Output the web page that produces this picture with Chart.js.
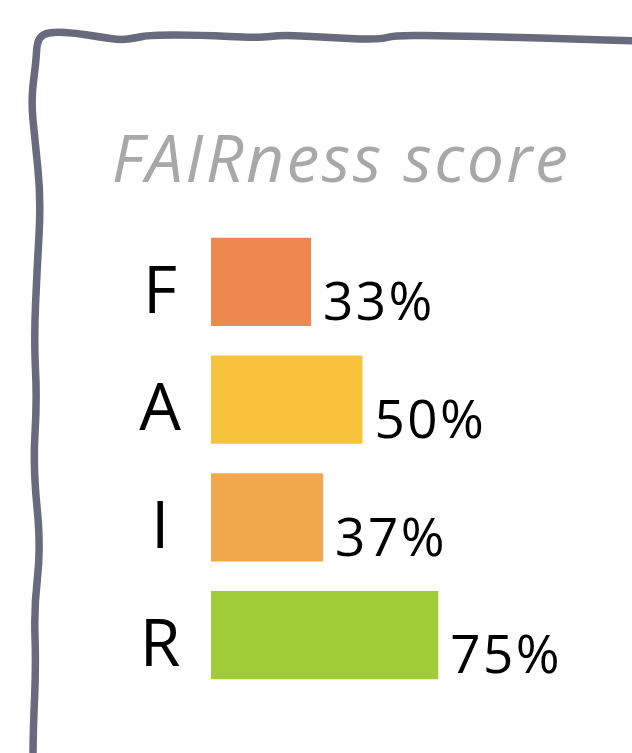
<!DOCTYPE html>
<html>
<head>
<meta charset="utf-8">
<script src="https://cdn.jsdelivr.net/npm/chart.js@4/dist/chart.umd.min.js"></script>
<style>
  html, body { margin: 0; padding: 0; background: #fff; overflow: hidden; }
  #wrap { position: absolute; left: 0; top: 0; width: 632px; height: 753px; }
</style>
</head>
<body>
<div id="wrap"><canvas id="fairChart" width="632" height="753"></canvas></div>
<script>
const categories = ["F", "A", "I", "R"];
const scores = [33, 50, 37, 75];
const barColors = ["#ef884f", "#f7c33c", "#f1a84c", "#a0cd37"];
const chartTitle = "FAIRness score";

// sketchy frame round the card (decoration only)
const framePoints = [
  [33, 760], [33, 733], [36, 667], [34, 607], [41, 547], [33, 467], [37, 400],
  [34, 340], [37, 270], [41, 200], [35, 140], [31, 100], [36, 62], [37, 42],
  [43, 34], [55, 32], [75, 33], [100, 37], [121, 40], [135, 38], [150, 35],
  [200, 35], [258, 38], [282, 35], [320, 37], [379, 40], [395, 35], [450, 36],
  [510, 37], [570, 39], [640, 41],
];

const sketchFrame = {
  id: "sketchFrame",
  afterDraw(chart) {
    const ctx = chart.ctx;
    ctx.save();
    ctx.strokeStyle = "#686b7e";
    ctx.lineWidth = 7.5;
    ctx.lineJoin = "round";
    ctx.lineCap = "round";
    ctx.beginPath();
    ctx.moveTo(framePoints[0][0], framePoints[0][1]);
    for (let i = 1; i < framePoints.length - 1; i++) {
      const mx = (framePoints[i][0] + framePoints[i + 1][0]) / 2;
      const my = (framePoints[i][1] + framePoints[i + 1][1]) / 2;
      ctx.quadraticCurveTo(framePoints[i][0], framePoints[i][1], mx, my);
    }
    const last = framePoints[framePoints.length - 1];
    ctx.lineTo(last[0], last[1]);
    ctx.stroke();
    ctx.restore();
  },
};

// title drawn by hand so it can sit off-centre like the original card
const cardTitle = {
  id: "cardTitle",
  afterDraw(chart) {
    const ctx = chart.ctx;
    ctx.save();
    ctx.font = "italic 66px 'Open Sans'";
    ctx.letterSpacing = "2.5px";
    ctx.fillStyle = "#a8a8a8";
    ctx.textAlign = "center";
    ctx.textBaseline = "alphabetic";
    ctx.fillText(chartTitle, 341, 182);
    ctx.restore();
  },
};

// "33%" etc. just after each bar, sitting near the bar's bottom edge
const valueLabels = {
  id: "valueLabels",
  afterDatasetsDraw(chart) {
    const ctx = chart.ctx;
    const meta = chart.getDatasetMeta(0);
    ctx.save();
    ctx.font = "53px 'Open Sans'";
    ctx.letterSpacing = "2.5px";
    ctx.fillStyle = "#000";
    ctx.textAlign = "left";
    ctx.textBaseline = "alphabetic";
    meta.data.forEach((bar, i) => {
      ctx.fillText(scores[i] + "%", bar.x + 12, bar.y + bar.height / 2 - 6);
    });
    ctx.restore();
  },
};

const ctx = document.getElementById("fairChart").getContext("2d");
new Chart(ctx, {
  type: "bar",
  data: {
    labels: categories,
    datasets: [
      {
        label: "FAIRness",
        data: scores,
        backgroundColor: barColors,
        borderWidth: 0,
        categoryPercentage: 1,
        barPercentage: 0.75,
      },
    ],
  },
  options: {
    indexAxis: "y",
    responsive: false,
    animation: false,
    layout: { padding: { left: 0, right: 118, top: 223, bottom: 59 } },
    plugins: {
      legend: { display: false },
      tooltip: { enabled: false },
      title: { display: false },
    },
    scales: {
      x: {
        display: false,
        min: 0,
        max: 100,
      },
      y: {
        grid: { display: false, drawTicks: false },
        border: { display: false },
        afterFit: (scale) => {
          scale.width = 211;
          scale.paddingTop = 0;
          scale.paddingBottom = 0;
        },
        ticks: {
          crossAlign: "center",
          padding: 30,
          labelOffset: 12,
          color: "#000",
          font: { family: "'Open Sans'", size: 66, lineHeight: 1 },
        },
      },
    },
  },
  plugins: [valueLabels, cardTitle, sketchFrame],
});
</script>
</body>
</html>
